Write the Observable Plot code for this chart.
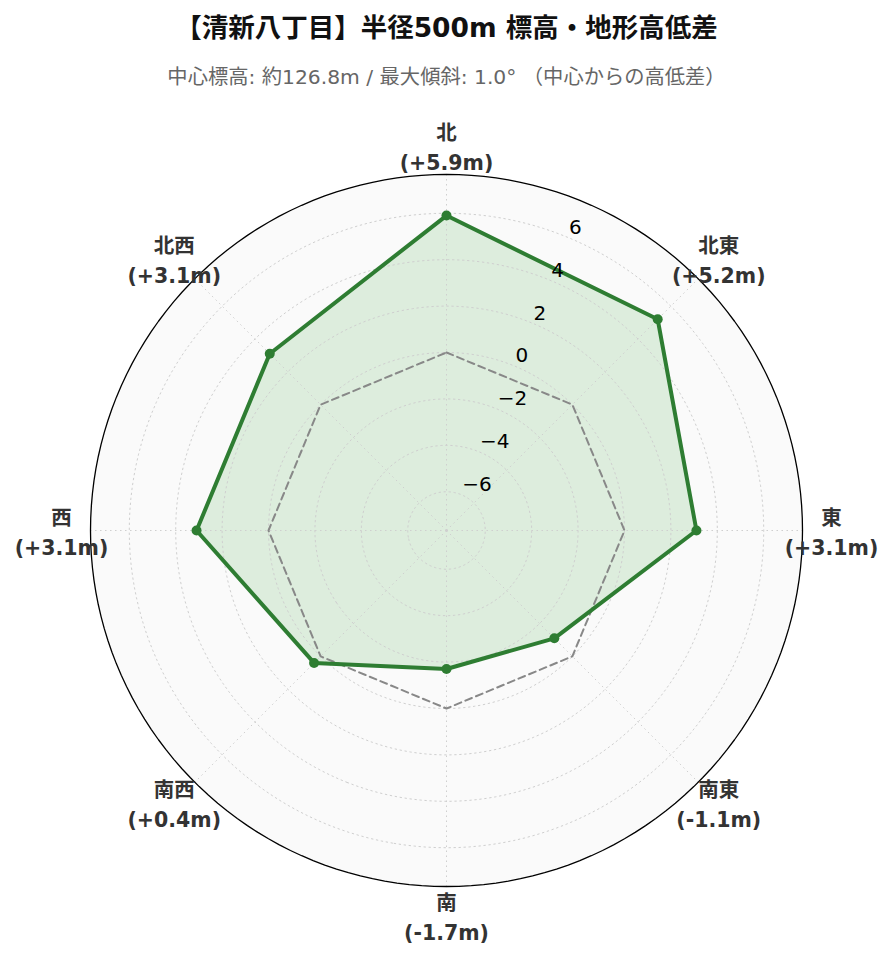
<!DOCTYPE html>
<html>
<head>
<meta charset="utf-8">
<script src="https://cdn.jsdelivr.net/npm/d3@7"></script>
<script src="https://cdn.jsdelivr.net/npm/@observablehq/plot@0.6"></script>
<style>
  html, body { margin: 0; padding: 0; background: #ffffff; }
  body { width: 893px; font-family: "DejaVu Sans", "Noto Sans CJK JP", sans-serif; }
  #header { height: 100px; position: relative; }
  #title { position: absolute; left: 0; width: 893px; top: 11px; text-align: center;
           font-size: 26.5px; font-weight: bold; color: #111; line-height: 34px; }
  #subtitle { position: absolute; left: 0; width: 893px; top: 63px; text-align: center;
              font-size: 20.3px; color: #666; line-height: 28px; }
  #chart svg { display: block; }
</style>
</head>
<body>
<div id="header">
  <div id="title">【清新八丁目】半径500m 標高・地形高低差</div>
  <div id="subtitle">中心標高: 約126.8m / 最大傾斜: 1.0° （中心からの高低差）</div>
</div>
<div id="chart"></div>
<script>
// ---- data ----
const directions = ["北", "北東", "東", "南東", "南", "南西", "西", "北西"];
const bearings = [0, 45, 90, 135, 180, 225, 270, 315];
const diffs = [5.9, 5.2, 3.1, -1.1, -1.7, 0.4, 3.1, 3.1];
const radialTicks = [-6, -4, -2, 0, 2, 4, 6];
const radialMin = -7.67;
const radialMax = 7.67;
const tickBearing = 22.5;

// ---- helpers: value -> angular distance from pole (degrees), bearing -> longitude ----
const rad = v => (v - radialMin) / (radialMax - radialMin) * 90;
const lat = v => 90 - rad(v);
const lon = b => 180 - b;

const points = directions.map((d, i) => ({dir: d, bearing: bearings[i], value: diffs[i]}));
const zeros = directions.map((d, i) => ({dir: d, bearing: bearings[i], value: 0}));
const fmt = v => (v >= 0 ? "+" : "") + v.toFixed(1);
const labelR = radialMax + 1.25;

const green = "#2e7d32";

const chart = Plot.plot({
  width: 893,
  height: 862,
  marginLeft: 90,
  marginRight: 91,
  marginTop: 74,
  marginBottom: 76,
  projection: {
    type: "azimuthal-equidistant",
    rotate: [0, -90],
    domain: d3.geoCircle().center([0, 90]).radius(90)(),
    clip: false
  },
  style: {fontFamily: "'DejaVu Sans', 'Noto Sans CJK JP', sans-serif"},
  marks: [
    // background disk
    Plot.geo([d3.geoCircle().center([0, 90]).radius(90)()], {fill: "#fafafa", stroke: "none"}),
    // fill area
    Plot.area(points, {
      x1: d => lon(d.bearing), y1: d => lat(d.value), x2: 0, y2: 90,
      fill: "#ddeddd", curve: "linear-closed"
    }),
    // grid circles
    Plot.geo(radialTicks.map(t => d3.geoCircle().center([0, 90]).radius(rad(t))()), {
      stroke: "#cfcfcf", strokeWidth: 1, strokeDasharray: "1.5,3.5"
    }),
    // spokes
    Plot.link(bearings, {
      x1: b => lon(b), y1: 90, x2: b => lon(b), y2: 0,
      stroke: "#cfcfcf", strokeWidth: 1, strokeDasharray: "1.5,3.5"
    }),
    // zero reference octagon
    Plot.line(zeros, {
      x: d => lon(d.bearing), y: d => lat(d.value),
      stroke: "#888888", strokeWidth: 2, strokeDasharray: "7,4.5", curve: "linear-closed"
    }),
    // data line
    Plot.line(points, {
      x: d => lon(d.bearing), y: d => lat(d.value),
      stroke: green, strokeWidth: 4, curve: "linear-closed", strokeLinejoin: "miter"
    }),
    Plot.dot(points, {
      x: d => lon(d.bearing), y: d => lat(d.value),
      r: 5, fill: green, stroke: "none"
    }),
    // outer circle
    Plot.geo([d3.geoCircle().center([0, 90]).radius(90)()], {fill: "none", stroke: "#000", strokeWidth: 1.3}),
    // radial tick labels
    Plot.text(radialTicks, {
      x: () => lon(tickBearing), y: t => lat(t),
      text: t => (t < 0 ? "\u2212" + Math.abs(t) : String(t)),
      fontSize: 20, fill: "#000", dx: 1, dy: -10, textAnchor: "start"
    }),
    // direction labels
    Plot.text(points, {
      x: d => lon(d.bearing), y: () => lat(labelR),
      text: d => `${d.dir}\n(${fmt(d.value)}m)`,
      fontSize: 20.5, fontWeight: "bold", fill: "#333", lineHeight: 1.46, textAnchor: "middle"
    })
  ]
});
document.getElementById("chart").appendChild(chart);
</script>
</body>
</html>
